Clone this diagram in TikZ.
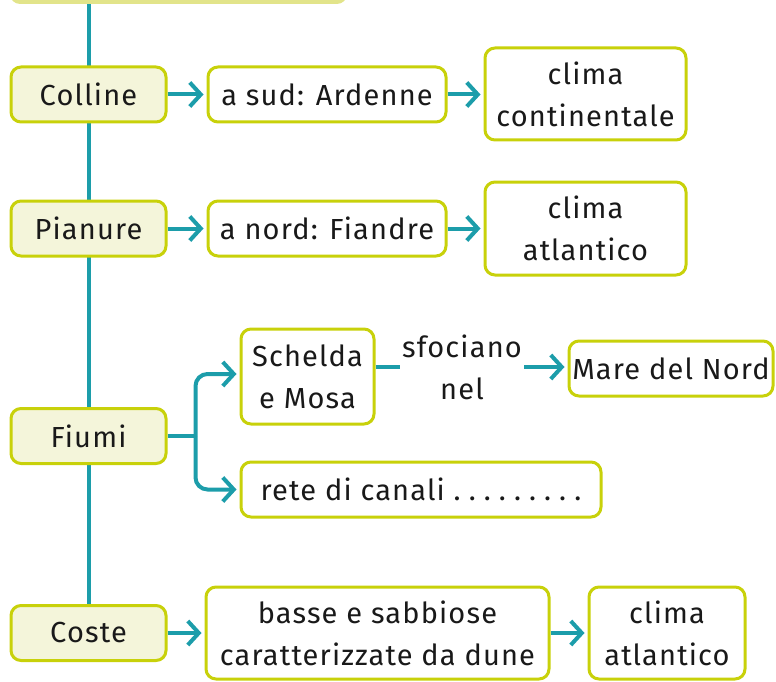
\documentclass[tikz,border=0pt]{standalone}
\usepackage{fontspec}
\setmainfont{Fira Sans}[LetterSpace = 4]
\usepackage{tikz}
\usetikzlibrary{arrows.meta}
\usetikzlibrary{positioning, backgrounds}
\definecolor{boxline}{HTML}{C8D10A}
\definecolor{topicfill}{HTML}{F4F5DA}
\definecolor{titlefill}{HTML}{E2E48A}
\definecolor{linkteal}{HTML}{1C9DAA}
\newcommand{\wideDots}[1]{{\addfontfeature{LetterSpace = 28}#1}}
\tikzset{
topic/.style = { rectangle, draw = boxline, fill = topicfill, line width = 3pt, rounded corners = 10pt, minimum width = 155pt, minimum height = 55pt, inner sep = 2pt },
info/.style = { rectangle, draw = boxline, fill = white, line width = 3pt, rounded corners = 10pt, minimum height = 55pt, inner sep = 1pt, align = center },
link/.style = { draw = linkteal, line width = 4pt },
arrow/.style = { link, -{Straight Barb[length = 11pt, width = 24pt, line width = 4pt]}, shorten > = 3pt },
}

\begin{document}
\begin{tikzpicture}[x = 1pt, y = -1pt, font = \fontsize{29}{42}\selectfont, text = black!90]
    \clip (0, 0) rectangle (776, 682);
    \node[fill = titlefill, rounded corners = 10pt, minimum width = 337pt, minimum height = 40pt] (title) at (178.5, -16) {};
    \node[topic] (colline) at (88.5, 94.5) {Colline};
    \node[topic] (pianure) at (88.5, 228.5) {Pianure};
    \node[topic] (fiumi) at (88.5, 436) {Fiumi};
    \node[topic] (coste) at (88.5, 633) {Coste};
    \node[info, minimum width = 238pt] (sud) at (327, 94.5) {a sud: Ardenne};
    \node[info, minimum width = 201pt, minimum height = 92pt] (continentale) at (585.5, 94) {clima\\continentale};
    \node[info, minimum width = 238pt] (nord) at (327, 228.5) {a nord: Fiandre};
    \node[info, minimum width = 201pt, minimum height = 93pt] (atlantico1) at (585.5, 228.5) {clima\\atlantico};
    \node[info, minimum width = 133pt, minimum height = 95pt] (schelda) at (307.5, 376.5) {Schelda\\e Mosa};
    \node[align = center, inner sep = 2pt] (sfociano) at (462, 367) {sfociano\\nel};
    \node[info, minimum width = 204pt, inner sep = 0pt] (mare) at (671, 368.5) {Mare del Nord};
    \node[info, minimum width = 360pt] (rete) at (421, 489.5) {rete di canali \wideDots{.........}};
    \node[info, minimum width = 343pt, minimum height = 92pt] (basse) at (377.5, 633) {basse e sabbiose\\caratterizzate da dune};
    \node[info, minimum width = 156pt, minimum height = 92pt] (atlantico2) at (667, 633) {clima\\atlantico};
    % trunk behind the boxes
    \begin{scope}[on background layer]
    \path[link] (title.south -| colline) -- (coste.north);
    \end{scope}
    \draw[arrow] (colline) -- (sud);
    \draw[arrow] (sud) -- (continentale.west |- sud);
    \draw[arrow] (pianure) -- (nord);
    \draw[arrow] (nord) -- (atlantico1.west |- nord);
    \draw[link] (fiumi.east) -- ++(28, 0) coordinate (fork);
    \draw[arrow, rounded corners = 12pt] (fork) |- (schelda.west |- 0, 374);
    \draw[arrow, rounded corners = 12pt] (fork) |- (rete.west);
    \draw[link] (schelda.east |- sfociano) -- (sfociano.west);
    \draw[arrow] (sfociano.east) -- (mare.west |- sfociano);
    \draw[arrow] (coste) -- (basse);
    \draw[arrow] (basse) -- (atlantico2);
\end{tikzpicture}
\end{document}
